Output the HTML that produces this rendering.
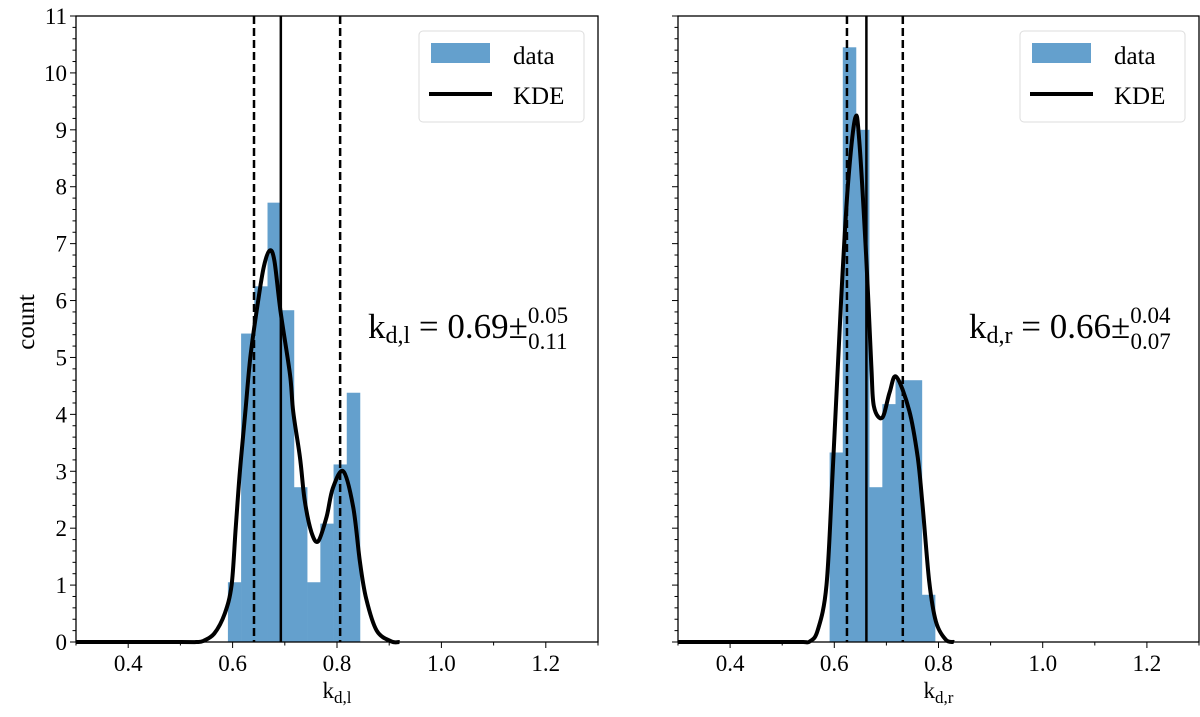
<!DOCTYPE html>
<html><head><meta charset="utf-8"><style>
body{margin:0;background:#fff}
svg{display:block;font-family:"Liberation Serif",serif}
</style></head><body>
<svg id="fig" width="1200" height="717"></svg>
<script>
const leftBins=[0.591,0.6163,0.6416,0.6669,0.6922,0.7175,0.7428,0.7681,0.7934,0.8187,0.844];
const leftCounts=[1.05,5.42,6.25,7.72,5.83,2.72,1.05,2.08,3.12,4.38];
const rightBins=[0.591,0.6163,0.6416,0.6669,0.6922,0.7175,0.7428,0.7681,0.7934];
const rightCounts=[3.33,10.45,9.0,2.72,4.18,4.6,4.6,0.83];
const leftKdeX=[0.3,0.5,0.53,0.544,0.565,0.585,0.598,0.606,0.614,0.624,0.634,0.649,0.66,0.671,0.68,0.692,0.71,0.716,0.729,0.738,0.751,0.764,0.78,0.792,0.812,0.831,0.844,0.856,0.876,0.904,0.92];
const leftKdeY=[0,0,0,0.02,0.15,0.5,1.0,2.0,3.0,4.0,5.0,6.0,6.6,6.88,6.7,5.8,4.7,4.05,3.25,2.5,1.93,1.77,2.2,2.7,3.0,2.37,1.4,0.76,0.2,0.01,0];
const rightKdeX=[0.3,0.5,0.54,0.553,0.568,0.585,0.597,0.613,0.626,0.64,0.648,0.661,0.671,0.676,0.692,0.706,0.719,0.744,0.76,0.769,0.782,0.795,0.814,0.83];
const rightKdeY=[0,0,0,0.01,0.2,1.0,3.0,6.0,8.0,9.2,8.8,6.8,4.86,4.14,3.94,4.38,4.66,4.06,3.25,2.45,1.08,0.36,0.04,0];
const leftLines=[0.641,0.6924,0.806];
const rightLines=[0.6243,0.6616,0.7315];
const xTicks=[0.4,0.6,0.8,1.0,1.2];
const xTickLabels=["0.4","0.6","0.8","1.0","1.2"];
const yTicks=[0,1,2,3,4,5,6,7,8,9,10,11];

const NS="http://www.w3.org/2000/svg";
const svg=document.getElementById('fig');
function el(t,a,p){const e=document.createElementNS(NS,t);for(const k in a)e.setAttribute(k,a[k]);(p||svg).appendChild(e);return e;}
const Y0=642,YT=16,X0=0.3,X1=1.3,Ymax=11;
function yS(v){return Y0-(Y0-YT)*v/Ymax;}
function smooth(pts){
  let d='M'+pts[0][0].toFixed(1)+','+pts[0][1].toFixed(1);
  for(let i=0;i<pts.length-1;i++){
    const p0=pts[Math.max(0,i-1)],p1=pts[i],p2=pts[i+1],p3=pts[Math.min(pts.length-1,i+2)];
    const c1=[p1[0]+(p2[0]-p0[0])/6,p1[1]+(p2[1]-p0[1])/6];
    const c2=[p2[0]-(p3[0]-p1[0])/6,p2[1]-(p3[1]-p1[1])/6];
    d+='C'+c1[0].toFixed(1)+','+c1[1].toFixed(1)+' '+c2[0].toFixed(1)+','+c2[1].toFixed(1)+' '+p2[0].toFixed(1)+','+p2[1].toFixed(1);
  }
  return d;
}
function panel(L,R,bins,counts,kx,ky,lines,sub,annot,showY,name){
  const g=el('g',{});
  
  
  const xS=v=>L+(R-L)*(v-X0)/(X1-X0);
  for(let i=0;i<counts.length;i++){
    const r=el('rect',{x:xS(bins[i]),y:yS(counts[i]),width:xS(bins[i+1])-xS(bins[i])+0.3,height:Y0-yS(counts[i]),fill:'#64a0cd'},g);
    
    
  }
  lines.forEach((v,i)=>{
    const ln=el('line',{x1:xS(v),x2:xS(v),y1:YT,y2:Y0,stroke:'#000','stroke-width':2.5,'stroke-dasharray':i==1?'':'8,4'},g);
    
    
  });
  const pts=kx.map((v,i)=>[xS(v),yS(ky[i])]);
  const p=el('path',{d:smooth(pts),fill:'none',stroke:'#000','stroke-width':4,'stroke-linejoin':'round'},g);
  
  
  const fr=el('rect',{x:L,y:YT,width:R-L,height:Y0-YT,fill:'none',stroke:'#000','stroke-width':1.3},g);
  
  
  for(let v=0.3;v<=1.3001;v+=0.1){
    const maj=xTicks.some(t=>Math.abs(t-v)<1e-6);
    el('line',{x1:xS(v),x2:xS(v),y1:Y0,y2:Y0+(maj?6:3.5),stroke:'#000','stroke-width':1},g);
  }
  xTicks.forEach((v,i)=>{const t=el('text',{x:xS(v),y:Y0+29,'font-size':23,'text-anchor':'middle'},g);t.textContent=xTickLabels[i];
    });
  for(let v=0;v<=11.001;v+=0.2){
    const maj=Math.abs(v-Math.round(v))<1e-6;
    el('line',{x1:L,x2:L-(maj?6:3.5),y1:yS(v),y2:yS(v),stroke:'#000','stroke-width':1},g);
  }
  if(showY) yTicks.forEach(v=>{const t=el('text',{x:L-9,y:yS(v)+8,'font-size':23,'text-anchor':'end'},g);t.textContent=v;
    });
  const xl=el('text',{x:(L+R)/2,y:698,'font-size':23,'text-anchor':'middle'},g);
  xl.innerHTML='k<tspan font-size="17" dy="5">'+sub+'</tspan>';
  
  const lg=el('g',{},g);
  
  el('rect',{x:R-179,y:31,width:165,height:91,rx:4,fill:'#fff',stroke:'#ddd','stroke-width':1},lg);
  el('rect',{x:R-167,y:43,width:59,height:20,fill:'#64a0cd'},lg);
  el('line',{x1:R-169,x2:R-106,y1:94,y2:94,stroke:'#000','stroke-width':4},lg);
  const t1=el('text',{x:R-85,y:64,'font-size':25},lg);t1.textContent='data';
  const t2=el('text',{x:R-85,y:104,'font-size':25},lg);t2.textContent='KDE';
  const an=el('text',{x:R-230,y:338,'font-size':35},g);
  an.innerHTML='k<tspan font-size="24" dy="5">'+sub+'</tspan><tspan dy="-5"> = '+annot[0]+'±</tspan><tspan font-size="23" dy="-15">'+annot[1]+'</tspan><tspan font-size="23" dx="-40" dy="26">'+annot[2]+'</tspan>';
  
}
panel(76,598,leftBins,leftCounts,leftKdeX,leftKdeY,leftLines,'d,l',['0.69','0.05','0.11'],true,'left-panel');
panel(678,1199,rightBins,rightCounts,rightKdeX,rightKdeY,rightLines,'d,r',['0.66','0.04','0.07'],false,'right-panel');
const yl=el('text',{x:34,y:322,'font-size':25,'text-anchor':'middle',transform:'rotate(-90 34 322)'});
yl.textContent='count';


</script>
</body></html>
